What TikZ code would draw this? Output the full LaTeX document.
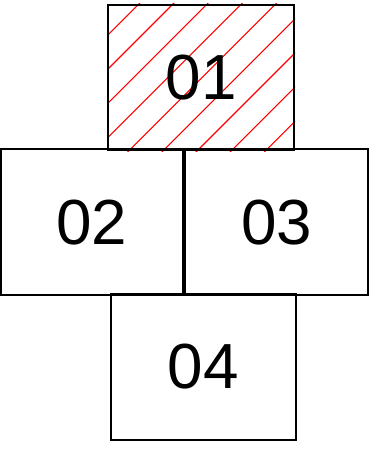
\documentclass[tikz,border=0pt]{standalone}
\usepackage{fontspec}
\setmainfont{Liberation Sans}
\tikzset{
  cell/.style={shape=rectangle, draw=black, line width=2bp, inner sep=0pt,
    font=\fontsize{64}{70}\selectfont},
  hatch/.style={draw=red, line width=1.1bp}
}
\begin{document}
\begin{tikzpicture}[x=1bp, y=-1bp]
\useasboundingbox (0,0) rectangle (382,451);
\node[cell, minimum width=185.7bp, minimum height=145.3bp] (c01) at (201.2,77.4) {};
% red hatching inside 01
\begin{scope}
\clip (c01.south west) rectangle (c01.north east);
\foreach \c in {108.6,142.8,...,460}
  \draw[hatch] (\c-170,170) -- (\c+10,-10);
\end{scope}
\node[cell, minimum width=185.7bp, minimum height=145.3bp] at (c01) {01};
\node[cell, minimum width=181.7bp, minimum height=145.7bp] (c02) at (91.8,222.2) {02};
\node[cell, minimum width=183bp, minimum height=145.7bp] (c03) at (276.8,222.2) {03};
\node[cell, minimum width=185bp, minimum height=146bp] (c04) at (203.2,367) {04};
\end{tikzpicture}
\end{document}
